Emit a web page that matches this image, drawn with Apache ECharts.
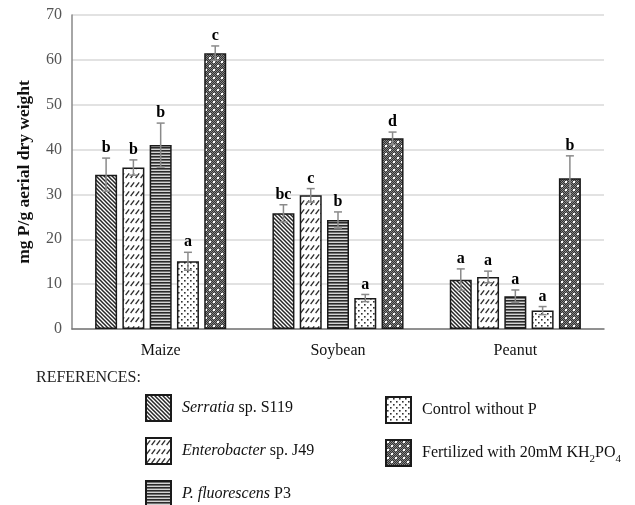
<!DOCTYPE html>
<html><head><meta charset="utf-8">
<script src="https://cdn.jsdelivr.net/npm/echarts@6/dist/echarts.min.js"></script>
<style>html,body{margin:0;padding:0;background:#fff}#c{width:635px;height:505px}</style>
</head><body><div id="c"></div>
<script>
// ---- data ----
const categories = ['Maize', 'Soybean', 'Peanut'];
const seriesNames = ['Serratia sp. S119', 'Enterobacter sp. J49', 'P. fluorescens P3', 'Control without P', 'Fertilized with 20mM KH2PO4'];
const serratia = [34.4, 25.8, 11.0];
const enterobacter = [36.0, 29.8, 11.6];
const fluorescens = [41.0, 24.3, 7.3];
const control = [15.1, 6.9, 4.1];
const fertilized = [61.5, 42.5, 33.6];
const serratiaErr = [3.7, 1.9, 2.4];
const enterobacterErr = [1.7, 1.5, 1.3];
const fluorescensErr = [4.9, 1.8, 1.4];
const controlErr = [2.0, 0.8, 0.9];
const fertilizedErr = [1.6, 1.4, 5.0];
const serratiaLetters = ['b', 'bc', 'a'];
const enterobacterLetters = ['b', 'c', 'a'];
const fluorescensLetters = ['b', 'b', 'a'];
const controlLetters = ['a', 'a', 'a'];
const fertilizedLetters = ['c', 'd', 'b'];
const yMin = 0, yMax = 70, yStep = 10;
const legendLabels = [
  '{i|Serratia} sp. S119',
  '{i|Enterobacter} sp. J49',
  '{i|P. fluorescens} P3',
  'Control without P',
  'Fertilized with 20mM KH{sub|2}PO{sub|4}'
];

const values = [serratia, enterobacter, fluorescens, control, fertilized];
const errors = [serratiaErr, enterobacterErr, fluorescensErr, controlErr, fertilizedErr];
const letters = [serratiaLetters, enterobacterLetters, fluorescensLetters, controlLetters, fertilizedLetters];

// ---- patterns ----
function tile(w, h, draw) {
  const c = document.createElement('canvas');
  c.width = w; c.height = h;
  const g = c.getContext('2d');
  draw(g);
  return { image: c, repeat: 'repeat' };
}
const patDiag = tile(4, 4, g => {
  g.fillStyle = '#fff'; g.fillRect(0, 0, 4, 4);
  g.strokeStyle = '#262626'; g.lineWidth = 1.5;
  g.beginPath();
  g.moveTo(-1, -1); g.lineTo(5, 5);
  g.moveTo(-1, 3); g.lineTo(1, 5);
  g.moveTo(3, -1); g.lineTo(5, 1);
  g.stroke();
});
const patSlash = tile(5, 9, g => {
  g.fillStyle = '#fff'; g.fillRect(0, 0, 5, 9);
  g.strokeStyle = '#2e2e2e'; g.lineWidth = 1.3;
  g.beginPath(); g.moveTo(0.6, 7); g.lineTo(4.2, 2.4); g.stroke();
});
const patHoriz = tile(4, 3, g => {
  g.fillStyle = '#d4d4d4'; g.fillRect(0, 0, 4, 3);
  g.fillStyle = '#2a2a2a'; g.fillRect(0, 0, 4, 1);
  g.fillStyle = '#707070'; g.fillRect(0, 1, 4, 1);
});
const patDots = tile(6, 6, g => {
  g.fillStyle = '#fff'; g.fillRect(0, 0, 6, 6);
  g.fillStyle = '#333';
  g.fillRect(1, 1, 1.6, 1.6); g.fillRect(4, 4, 1.6, 1.6);
});
const patFert = tile(8, 8, g => {
  for (let i = 0; i < 8; i++) for (let j = 0; j < 8; j++) {
    g.fillStyle = (i + j) % 2 ? '#333' : '#858585';
    g.fillRect(i, j, 1, 1);
  }
  g.fillStyle = '#fff';
  g.fillRect(1, 1, 2, 2); g.fillRect(5, 5, 2, 2);
});
const patterns = [patDiag, patSlash, patHoriz, patDots, patFert];

const SERIF = 'Liberation Serif, Times New Roman, serif';
const BAR_W = 22, GAP = 0.24;

const series = [];
values.forEach((vals, k) => {
  series.push({
    name: seriesNames[k], type: 'bar', data: vals,
    barWidth: BAR_W, barGap: (GAP * 100) + '%',
    itemStyle: { color: patterns[k], borderColor: '#1a1a1a', borderWidth: 1.5 },
    emphasis: { disabled: true }, z: 2
  });
});
values.forEach((vals, k) => {
  series.push({
    type: 'custom', z: 5, silent: true,
    data: vals.map((v, i) => [i, v, errors[k][i]]),
    encode: { x: 0, y: 1 },
    renderItem: function (params, api) {
      const ci = api.value(0), v = api.value(1), e = api.value(2);
      const c = api.coord([ci, v]);
      const x = c[0] + (k - 2) * BAR_W * (1 + GAP);
      const yT = api.coord([ci, v + e])[1];
      const yB = api.coord([ci, v - e])[1];
      const st = { stroke: '#8a8a8a', lineWidth: 1.5 };
      return {
        type: 'group', children: [
          { type: 'line', shape: { x1: x, y1: yT, x2: x, y2: yB }, style: st },
          { type: 'line', shape: { x1: x - 4, y1: yT, x2: x + 4, y2: yT }, style: st },
          { type: 'line', shape: { x1: x - 4, y1: yB, x2: x + 4, y2: yB }, style: st },
          { type: 'text', style: { text: letters[k][params.dataIndex], x: x, y: yT - 2, align: 'center', verticalAlign: 'bottom', font: 'bold 16px ' + SERIF, fill: '#000' } }
        ]
      };
    }
  });
});

const richStyles = {
  i: { fontStyle: 'italic', fontFamily: SERIF, fontSize: 16, color: '#111' },
  sub: { fontFamily: SERIF, fontSize: 11, color: '#111', verticalAlign: 'bottom', padding: [0, 0, -4, 0] }
};
function legendCfg(names, left, top) {
  return {
    data: names, orient: 'vertical', left: left, top: top, icon: 'rect',
    padding: 0, height: 115,
    itemWidth: 25, itemHeight: 26, itemGap: 15, selectedMode: false,
    formatter: name => legendLabels[seriesNames.indexOf(name)],
    textStyle: { fontFamily: SERIF, fontSize: 16, color: '#111', padding: [0, 0, 0, 6], rich: richStyles }
  };
}

const chart = echarts.init(document.getElementById('c'));
chart.setOption({
  animation: false,
  backgroundColor: '#fff',
  grid: { left: 72, right: 31, top: 15, bottom: 176 },
  title: { text: 'REFERENCES:', left: 36, top: 370, padding: 0, textStyle: { fontFamily: SERIF, fontSize: 16, fontWeight: 'normal', color: '#222' } },
  legend: [
    legendCfg(seriesNames.slice(0, 3), 145, 394),
    legendCfg(seriesNames.slice(3), 385, 396)
  ],
  xAxis: {
    type: 'category', data: categories,
    axisLine: { lineStyle: { color: '#777', width: 1.5 } },
    axisTick: { show: false },
    axisLabel: { fontFamily: SERIF, fontSize: 16, color: '#111', margin: 14 },
    splitLine: { show: false }
  },
  yAxis: {
    type: 'value', min: yMin, max: yMax, interval: yStep,
    name: 'mg P/g aerial dry weight', nameLocation: 'middle', nameGap: 39, nameRotate: 90,
    nameTextStyle: { fontFamily: SERIF, fontSize: 17.5, fontWeight: 'bold', color: '#111' },
    axisLine: { show: true, lineStyle: { color: '#888', width: 1.5 } },
    axisTick: { show: false },
    axisLabel: { fontFamily: SERIF, fontSize: 16, color: '#555', margin: 10 },
    splitLine: { lineStyle: { color: '#d9d9d9', width: 1.5 } }
  },
  series: series
});
</script>
</body></html>
